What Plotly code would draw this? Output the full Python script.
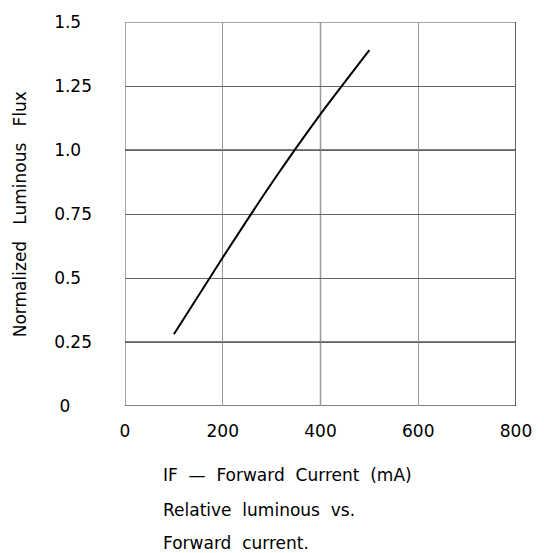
import plotly.graph_objects as go

# Data
current_ma = [100, 200, 300, 400, 500]
flux = [0.28, 0.58, 0.87, 1.14, 1.39]

x_ticks = [0, 200, 400, 600, 800]
x_ticklabels = ["0", "200", "400", "600", "800"]
y_ticks = [0, 0.25, 0.5, 0.75, 1.0, 1.25, 1.5]
y_ticklabels = ["0", "0.25", "0.5", "0.75", "1.0", "1.25", "1.5"]
x_dark = [400, 800]
y_dark = [0, 0.25, 1.0]
x_light_edge = [0]
y_light_edge = [1.5]

FS = "\u2007"
NB = "\u00a0"
FONT = "DejaVu Sans"
SIZE = 17

def pad_label(t):
    if t == "0":
        return t + FS * 2
    n = len(t.replace(".", ""))
    return t + FS * (3 - n)

fig = go.Figure()
fig.add_trace(go.Scatter(x=current_ma, y=flux, mode="lines",
                         line=dict(color="black", width=2, shape="spline", smoothing=0.6),
                         showlegend=False, hoverinfo="skip"))

shapes = []
for xv in x_light_edge:
    shapes.append(dict(type="line", xref="x", yref="paper", x0=xv, x1=xv, y0=0, y1=1,
                       line=dict(color="#8a8a8a", width=1.5), layer="below"))
for yv in y_light_edge:
    shapes.append(dict(type="line", xref="paper", yref="y", x0=0, x1=1, y0=yv, y1=yv,
                       line=dict(color="#8a8a8a", width=1.5), layer="below"))
for xv in x_dark:
    shapes.append(dict(type="line", xref="x", yref="paper", x0=xv, x1=xv, y0=0, y1=1,
                       line=dict(color="black", width=1.2), layer="below"))
for yv in y_dark:
    shapes.append(dict(type="line", xref="paper", yref="y", x0=0, x1=1, y0=yv, y1=yv,
                       line=dict(color="black", width=1.2), layer="below"))

annotations = [
    dict(text="Normalized" + NB * 3 + "Luminous" + NB * 3 + "Flux", xref="paper", yref="paper",
         x=(20 - 125) / 392, y=0.5, textangle=-90, showarrow=False, xanchor="center", yanchor="middle",
         font=dict(family=FONT, size=SIZE, color="black")),
]
captions = ["IF" + NB * 2 + "\u2014" + NB * 2 + "Forward" + NB * 2 + "Current" + NB * 2 + "(mA)",
            "Relative" + NB * 2 + "luminous" + NB * 2 + "vs.",
            "Forward" + NB * 2 + "current."]
cap_y = [476, 512, 545]
for txt, yy in zip(captions, cap_y):
    annotations.append(dict(text=txt, xref="paper", yref="paper",
                            x=(161 - 125) / 392, y=(406 - yy) / 390,
                            xanchor="left", yanchor="middle", showarrow=False,
                            font=dict(family=FONT, size=SIZE, color="black")))

fig.update_layout(
    width=544, height=553,
    margin=dict(l=125, r=27, t=16, b=147),
    plot_bgcolor="white", paper_bgcolor="white",
    font=dict(family=FONT, size=SIZE, color="black"),
    xaxis=dict(range=[0, 800], tickvals=x_ticks, ticktext=x_ticklabels,
               showgrid=True, gridcolor="#9a9a9a", gridwidth=1, zeroline=False,
               showline=False, ticks="", ticklabelstandoff=13, fixedrange=True),
    yaxis=dict(range=[0, 1.5], tickvals=y_ticks, ticktext=[pad_label(t) for t in y_ticklabels],
               showgrid=True, gridcolor="#666666", gridwidth=1, zeroline=False,
               showline=False, ticks="", ticklabelstandoff=32, fixedrange=True),
    shapes=shapes,
    annotations=annotations,
)

fig.write_html("out.html", config={"displayModeBar": False},
               post_script="document.body.style.margin='0px';document.body.style.overflow='hidden';")
